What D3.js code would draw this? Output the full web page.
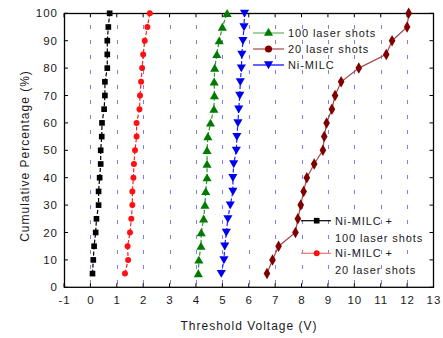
<!DOCTYPE html>
<html>
<head>
<meta charset="utf-8">
<script src="https://cdn.jsdelivr.net/npm/d3@7"></script>
<style>
body { margin: 0; background: #fff; }
svg text { font-family: Arial, "Liberation Sans", sans-serif; fill: #1a1a1a; }
</style>
</head>
<body>
<svg id="chart" width="443" height="338"></svg>
<script>
// cumulative percentage levels (y) shared by every series
var pct = [5,10,15,20,25,30,35,40,45,50,55,60,65,70,75,80,85,90,95,100];

// threshold voltages (V)
var milc100 = [0.08,0.11,0.14,0.20,0.23,0.31,0.31,0.35,0.39,0.39,0.43,0.44,0.52,0.55,0.55,0.64,0.64,0.64,0.68,0.73];
var milc20  = [1.31,1.43,1.41,1.50,1.55,1.59,1.59,1.63,1.65,1.69,1.75,1.75,1.86,1.88,1.92,1.96,2.00,2.06,2.16,2.25];
var shots100 = [4.09,4.11,4.19,4.20,4.29,4.34,4.37,4.42,4.42,4.42,4.45,4.55,4.68,4.70,4.69,4.71,4.79,4.88,5.00,5.18];
var milc    = [4.96,5.06,5.09,5.15,5.21,5.30,5.40,5.40,5.43,5.53,5.55,5.59,5.62,5.66,5.68,5.72,5.74,5.78,5.82,5.84];
var shots20 = [6.69,6.90,7.13,7.77,7.86,7.97,8.08,8.20,8.48,8.81,8.86,8.95,9.15,9.27,9.50,10.17,11.21,11.43,12.00,12.06];

var xTicks = [-1,0,1,2,3,4,5,6,7,8,9,10,11,12,13];
var yTicks = [0,10,20,30,40,50,60,70,80,90,100];
var gridX = [0,1,2,3,4,5,6,7,8,9,10,11,12];

var svg = d3.select('#chart');
var x = d3.scaleLinear().domain([-1, 13]).range([64, 433.5]);
var y = d3.scaleLinear().domain([0, 100]).range([287.3, 13.3]);

// dotted blue grid
svg.append('g').selectAll('line').data(gridX).enter().append('line')
	.attr('x1', d => Math.round(x(d)) + 0.5)
	.attr('x2', d => Math.round(x(d)) + 0.5)
	.attr('y1', y(100))
	.attr('y2', y(0))
	.attr('stroke', '#7c7cff')
	.attr('stroke-width', 1)
	.attr('stroke-dasharray', '4,11')
	.attr('stroke-dashoffset', 3.3);

var series = [
	{ vals: milc100, line: '#000', dash: '4,2', mark: '#000', sym: d3.symbolSquare, size: 32, rot: 0 },
	{ vals: milc20, line: '#ff2020', dash: '4,2', mark: '#ff1010', sym: d3.symbolCircle, size: 28, rot: 0 },
	{ vals: shots100, line: '#2a9a2a', dash: '4,2', mark: '#007a00', sym: d3.symbolTriangle, size: 36, rot: 0 },
	{ vals: milc, line: '#2020ff', dash: '4,2', mark: '#0000f0', sym: d3.symbolTriangle, size: 36, rot: 180 },
	{ vals: shots20, line: '#a84848', dash: null, mark: '#800000', sym: d3.symbolDiamond, size: 38, rot: 0 }
];

var line = d3.line().x(d => x(d[0])).y(d => y(d[1]));

series.forEach(function(s){
	var pts = s.vals.map((v, i) => [v, pct[i]]);
	svg.append('path')
		.attr('d', line(pts))
		.attr('fill', 'none')
		.attr('stroke', s.line)
		.attr('stroke-width', 1.2)
		.attr('stroke-dasharray', s.dash);
});

// frame
svg.append('rect')
	.attr('x', 64.5).attr('y', 13.5)
	.attr('width', 433.5 - 64.5).attr('height', 287.3 - 13.5)
	.attr('fill', 'none').attr('stroke', '#000').attr('stroke-width', 1.3);

// inward ticks on all four sides
var tickG = svg.append('g').attr('stroke', '#000').attr('stroke-width', 1);
xTicks.forEach(function(d){
	tickG.append('line').attr('x1', x(d)).attr('x2', x(d)).attr('y1', y(0)).attr('y2', y(0) - 4);
	tickG.append('line').attr('x1', x(d)).attr('x2', x(d)).attr('y1', y(100)).attr('y2', y(100) + 4);
});
yTicks.forEach(function(d){
	tickG.append('line').attr('x1', x(-1)).attr('x2', x(-1) + 4).attr('y1', y(d)).attr('y2', y(d));
	tickG.append('line').attr('x1', x(13)).attr('x2', x(13) - 4).attr('y1', y(d)).attr('y2', y(d));
});

// tick labels
svg.append('g').selectAll('text').data(xTicks).enter().append('text')
	.attr('x', d => x(d) + 0.5)
	.attr('y', 304)
	.attr('text-anchor', 'middle')
	.attr('font-size', 11.5)
	.attr('letter-spacing', 1)
	.text(d => d);
svg.append('g').selectAll('text').data(yTicks).enter().append('text')
	.attr('x', 58)
	.attr('y', d => y(d) + 4)
	.attr('text-anchor', 'end')
	.attr('font-size', 11.5)
	.attr('letter-spacing', 1)
	.text(d => d);

// markers
function marker(g, s, cx, cy){
	g.append('path')
		.attr('d', d3.symbol().type(s.sym).size(s.size)())
		.attr('transform', `translate(${cx}, ${cy}) rotate(${s.rot})`)
		.attr('fill', s.mark);
}
series.forEach(function(s){
	var g = svg.append('g');
	s.vals.forEach((v, i) => marker(g, s, x(v), y(pct[i]) + (s.sym === d3.symbolTriangle ? (s.rot ? -1 : 1) : 0)));
});

// axis titles
svg.append('text')
	.attr('x', 249).attr('y', 330)
	.attr('text-anchor', 'middle')
	.attr('font-size', 12)
	.attr('letter-spacing', 1)
	.text('Threshold Voltage (V)');
svg.append('text')
	.attr('transform', 'translate(29, 156) rotate(-90)')
	.attr('text-anchor', 'middle')
	.attr('font-size', 12)
	.attr('letter-spacing', 1)
	.text('Cumulative Percentage (%)');

// legend, top right
var leg1 = [
	{ s: series[2], line: '#6cb86c', label: '100 laser shots', cy: 33 },
	{ s: series[4], line: '#b05050', label: '20 laser shots', cy: 49, circle: true },
	{ s: series[3], line: '#1010ff', label: 'Ni-MILC', cy: 65 }
];
leg1.forEach(function(l){
	svg.append('line').attr('x1', 253).attr('x2', 284).attr('y1', l.cy).attr('y2', l.cy)
		.attr('stroke', l.line).attr('stroke-width', 1.3);
	var s = l.circle ? Object.assign({}, l.s, { sym: d3.symbolCircle, size: 40 }) : l.s;
	marker(svg, s, 268.5, l.cy + (l.s.sym === d3.symbolTriangle ? (l.s.rot ? -1 : 0) : 0));
	svg.append('text').attr('x', 288).attr('y', l.cy + 4)
		.attr('font-size', 11).attr('letter-spacing', 0.9).text(l.label);
});

// legend, bottom right
var leg2 = [
	{ s: series[0], line: '#000', labels: ['Ni-MILC +', '100 laser shots'], cy: 220.7 },
	{ s: series[1], line: '#ff7070', labels: ['Ni-MILC +', '20 laser shots'], cy: 253.3 }
];
leg2.forEach(function(l){
	svg.append('line').attr('x1', 301).attr('x2', 331).attr('y1', l.cy).attr('y2', l.cy)
		.attr('stroke', l.line).attr('stroke-width', 1.2);
	marker(svg, l.s, 316.7, l.cy);
	svg.append('text').attr('x', 335).attr('y', l.cy + 4)
		.attr('font-size', 11).attr('letter-spacing', 0.9).text(l.labels[0]);
	svg.append('text').attr('x', 335).attr('y', l.cy + 21)
		.attr('font-size', 11).attr('letter-spacing', 0.9).text(l.labels[1]);
});
</script>
</body>
</html>
